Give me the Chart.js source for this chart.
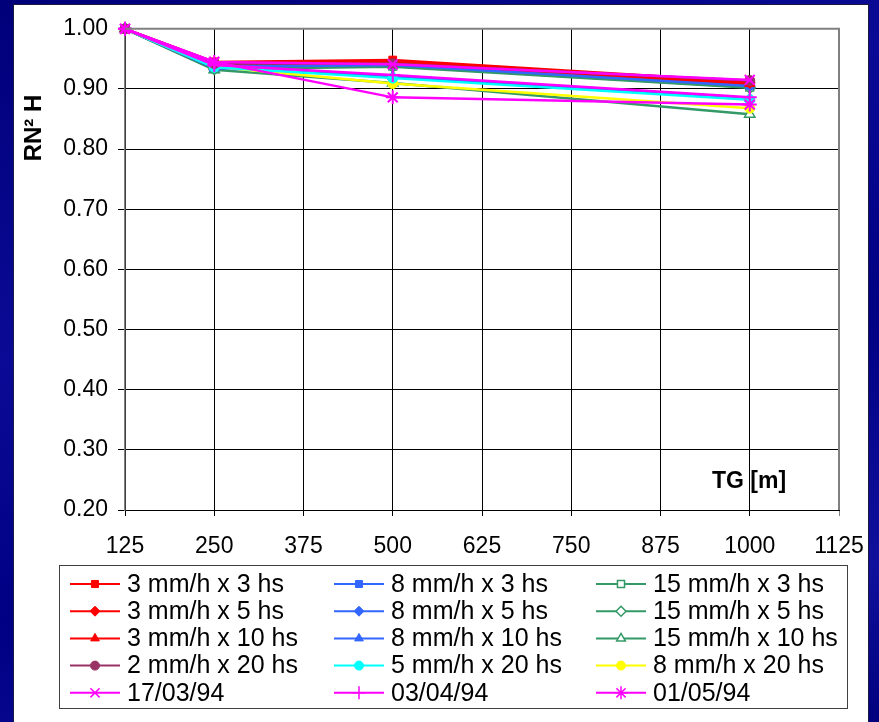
<!DOCTYPE html>
<html>
<head>
<meta charset="utf-8">
<title>RN² H vs TG</title>
<script src="https://cdn.jsdelivr.net/npm/chart.js@4.4.1/dist/chart.umd.min.js"></script>
<style>
    html, body {
        margin: 0;
        padding: 0;
        width: 879px;
        height: 722px;
        overflow: hidden;
        background: linear-gradient(160deg, #00007a 0%, #0a0a96 35%, #000084 60%, #10109c 85%, #00007e 100%);
    }
    #panel {
        position: absolute;
        left: 14px;
        top: 5px;
        width: 854px;
        height: 717px;
        background: #ffffff;
        box-shadow: 0 0 0 1px #1a1a40;
    }
    #chart {
        display: block;
    }
</style>
</head>
<body>
<div id="panel"><canvas id="chart" width="854" height="717"></canvas></div>
<script>
// x positions (TG [m])
const tgValues = [125, 250, 500, 1000];

// axis ticks
const xMin = 125, xMax = 1125, xStep = 125;
const yMin = 0.20, yMax = 1.00, yStep = 0.10;

// RN² H series
const s3mm3hs = [1.00, 0.945, 0.948, 0.912];
const s3mm5hs = [1.00, 0.944, 0.946, 0.910];
const s3mm10hs = [1.00, 0.943, 0.944, 0.909];
const s2mm20hs = [1.00, 0.942, 0.942, 0.914];
const s8mm3hs = [1.00, 0.938, 0.941, 0.906];
const s8mm5hs = [1.00, 0.937, 0.940, 0.905];
const s8mm10hs = [1.00, 0.935, 0.921, 0.884];
const s5mm20hs = [1.00, 0.936, 0.918, 0.882];
const s15mm3hs = [1.00, 0.934, 0.938, 0.903];
const s15mm5hs = [1.00, 0.933, 0.937, 0.902];
const s15mm10hs = [1.00, 0.932, 0.910, 0.858];
const s8mm20hs = [1.00, 0.937, 0.909, 0.868];
const d170394 = [1.00, 0.945, 0.941, 0.915];
const d030494 = [1.00, 0.940, 0.923, 0.886];
const d010594 = [1.00, 0.945, 0.886, 0.874];

// Theme colors
const colors = {
    red: '#ff0000',
    blue: '#3366ff',
    green: '#339966',
    plum: '#993366',
    cyan: '#00ffff',
    yellow: '#ffff00',
    magenta: '#ff00ff'
};

const FONT = '"Liberation Sans", Arial, sans-serif';

// legend order is row by row, 3 columns
const series = [
    { label: '3 mm/h x 3 hs', data: s3mm3hs, color: colors.red, style: 'rect', fill: true, order: 5 },
    { label: '8 mm/h x 3 hs', data: s8mm3hs, color: colors.blue, style: 'rect', fill: true, order: 8 },
    { label: '15 mm/h x 3 hs', data: s15mm3hs, color: colors.green, style: 'rect', fill: false, order: 9 },
    { label: '3 mm/h x 5 hs', data: s3mm5hs, color: colors.red, style: 'rectRot', fill: true, order: 5 },
    { label: '8 mm/h x 5 hs', data: s8mm5hs, color: colors.blue, style: 'rectRot', fill: true, order: 8 },
    { label: '15 mm/h x 5 hs', data: s15mm5hs, color: colors.green, style: 'rectRot', fill: false, order: 9 },
    { label: '3 mm/h x 10 hs', data: s3mm10hs, color: colors.red, style: 'triangle', fill: true, order: 5 },
    { label: '8 mm/h x 10 hs', data: s8mm10hs, color: colors.blue, style: 'triangle', fill: true, order: 7 },
    { label: '15 mm/h x 10 hs', data: s15mm10hs, color: colors.green, style: 'triangle', fill: false, order: 9 },
    { label: '2 mm/h x 20 hs', data: s2mm20hs, color: colors.plum, style: 'circle', fill: true, order: 4 },
    { label: '5 mm/h x 20 hs', data: s5mm20hs, color: colors.cyan, style: 'circle', fill: true, order: 6 },
    { label: '8 mm/h x 20 hs', data: s8mm20hs, color: colors.yellow, style: 'circle', fill: true, order: 6 },
    { label: '17/03/94', data: d170394, color: colors.magenta, style: 'crossRot', fill: true, order: 1 },
    { label: '03/04/94', data: d030494, color: colors.magenta, style: 'cross', fill: true, order: 2 },
    { label: '01/05/94', data: d010594, color: colors.magenta, style: 'star', fill: true, order: 1 }
];

const isStroked = style => style === 'cross' || style === 'crossRot' || style === 'star';

const markerSize = style => {
    if (isStroked(style)) return 7;
    if (style === 'circle') return 5;
    if (style === 'triangle') return 6;
    return 5.5;
};

const datasets = series.map(s => ({
    label: s.label,
    data: s.data.map((v, i) => ({ x: tgValues[i], y: v })),
    borderColor: s.color,
    backgroundColor: s.color,
    borderWidth: 2.5,
    pointStyle: s.style,
    pointRadius: markerSize(s.style),
    pointBorderColor: s.color,
    pointBackgroundColor: s.fill ? s.color : '#ffffff',
    pointBorderWidth: isStroked(s.style) ? 2 : (s.fill ? 1 : 1.5),
    tension: 0,
    clip: false,
    order: s.order
}));

// draws the rotated y title, the TG [m] label, the gray frame and the boxed legend
const decorPlugin = {
    id: 'decor',
    afterDraw(chart) {
        const ctx = chart.ctx;
        const area = chart.chartArea;
        ctx.save();

        // gray frame on top and right side of the plot
        ctx.strokeStyle = '#808080';
        ctx.lineWidth = 2;
        ctx.beginPath();
        ctx.moveTo(area.left, area.top);
        ctx.lineTo(area.right, area.top);
        ctx.lineTo(area.right, area.bottom);
        ctx.stroke();

        // y axis title
        ctx.fillStyle = '#000000';
        ctx.font = 'bold 24px ' + FONT;
        ctx.textAlign = 'center';
        ctx.textBaseline = 'middle';
        ctx.translate(20, 123);
        ctx.rotate(-Math.PI / 2);
        ctx.fillText('RN² H', 0, 0);
        ctx.setTransform(1, 0, 0, 1, 0, 0);

        // x axis title, inside the plot
        ctx.font = 'bold 23px ' + FONT;
        ctx.fillText('TG [m]', 735, 477);

        // legend box
        const box = { left: 45.5, top: 560.5, right: 833.5, bottom: 703.5 };
        ctx.strokeStyle = '#404040';
        ctx.lineWidth = 1;
        ctx.strokeRect(box.left, box.top, box.right - box.left, box.bottom - box.top);

        const colLine = [56, 320, 582];
        const rowY0 = 579, rowStep = 27.2;
        const drawPoint = Chart.helpers && Chart.helpers.drawPoint;

        chart.data.datasets.forEach((ds, i) => {
            const col = i % 3;
            const row = Math.floor(i / 3);
            const y = rowY0 + row * rowStep;
            const x0 = colLine[col];

            ctx.strokeStyle = ds.borderColor;
            ctx.lineWidth = 2;
            ctx.beginPath();
            ctx.moveTo(x0, y);
            ctx.lineTo(x0 + 50, y);
            ctx.stroke();

            if (drawPoint) {
                const stroked = isStroked(ds.pointStyle);
                ctx.fillStyle = ds.pointBackgroundColor;
                ctx.strokeStyle = ds.pointBorderColor;
                ctx.lineWidth = stroked ? 1.5 : ds.pointBorderWidth;
                drawPoint(ctx, {
                    pointStyle: ds.pointStyle,
                    radius: stroked ? 6.5 : (ds.pointStyle === 'circle' ? 4.5 : 5),
                    rotation: 0,
                    borderWidth: ctx.lineWidth
                }, x0 + 25, y);
            }

            ctx.fillStyle = '#000000';
            ctx.font = '25px ' + FONT;
            ctx.textAlign = 'left';
            ctx.textBaseline = 'middle';
            ctx.fillText(ds.label, x0 + 57, y + 1);
        });

        ctx.restore();
    }
};

new Chart(document.getElementById('chart').getContext('2d'), {
    type: 'line',
    data: { datasets },
    options: {
        responsive: false,
        animation: false,
        events: [],
        layout: {
            padding: { left: 0, top: 20, right: 29, bottom: 167 }
        },
        plugins: {
            legend: { display: false },
            tooltip: { enabled: false },
            title: { display: false }
        },
        scales: {
            x: {
                type: 'linear',
                min: xMin,
                max: xMax,
                afterFit: scale => {
                    scale.height = 45;
                    scale.paddingLeft = 0;
                    scale.paddingRight = 0;
                },
                afterBuildTicks: scale => {
                    const t = [];
                    for (let v = xMin; v <= xMax + 0.01; v += xStep) t.push({ value: v });
                    scale.ticks = t;
                },
                ticks: {
                    color: '#000000',
                    font: { family: FONT, size: 23 },
                    padding: 17,
                    maxRotation: 0,
                    autoSkip: false,
                    callback: v => String(v)
                },
                grid: {
                    color: ctx => (ctx.tick && ctx.tick.value === xMax ? '#808080' : '#000000'),
                    lineWidth: 1,
                    tickLength: 6,
                    drawOnChartArea: true
                },
                border: { color: '#000000', width: 1 }
            },
            y: {
                min: yMin,
                max: yMax,
                afterFit: scale => { scale.width = 111; },
                afterBuildTicks: scale => {
                    const t = [];
                    for (let k = 0; k <= Math.round((yMax - yMin) / yStep); k++) t.push({ value: +(yMin + k * yStep).toFixed(2) });
                    scale.ticks = t;
                },
                ticks: {
                    color: '#000000',
                    font: { family: FONT, size: 23 },
                    padding: 10,
                    callback: v => Number(v).toFixed(2)
                },
                grid: {
                    color: ctx => (ctx.tick && ctx.tick.value === yMax ? '#808080' : '#000000'),
                    lineWidth: 1,
                    tickLength: 7
                },
                border: { color: '#808080', width: 1.5 }
            }
        }
    },
    plugins: [decorPlugin]
});
</script>
</body>
</html>
